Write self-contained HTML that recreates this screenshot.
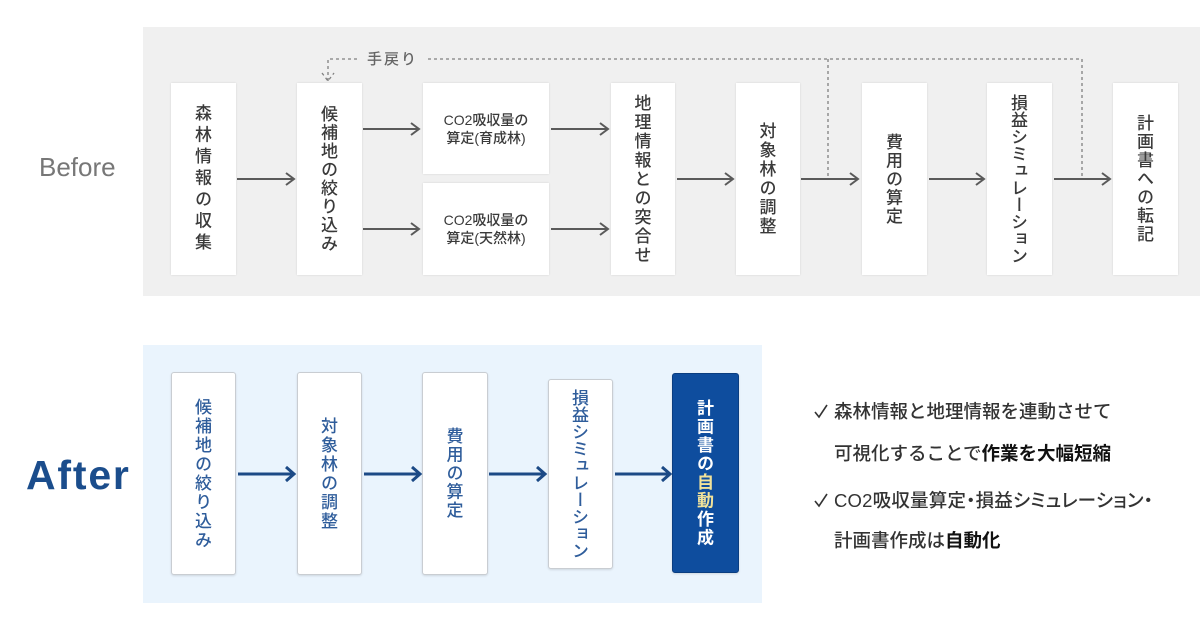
<!DOCTYPE html>
<html><head><meta charset="utf-8">
<style>
html,body{margin:0;padding:0;background:#fff;}
body{width:1200px;height:630px;position:relative;overflow:hidden;font-family:"Liberation Sans","Noto Sans CJK JP",sans-serif;}
.abs{position:absolute;}
.panelB{position:absolute;left:143px;top:27px;width:1057px;height:269px;background:#f0f0f0;}
.panelA{position:absolute;left:143px;top:345px;width:619px;height:258px;background:#eaf4fd;}
.bx{position:absolute;background:#fff;box-shadow:0 0 2px rgba(0,0,0,.12);display:flex;align-items:center;justify-content:center;}
.vt{writing-mode:vertical-rl;font-family:"Noto Sans CJK JP",sans-serif;font-size:17px;font-weight:500;color:#3a3a3a;line-height:1;}
.ht{font-family:"Liberation Sans","Noto Sans CJK JP",sans-serif;font-size:14px;font-weight:500;color:#3a3a3a;text-align:center;line-height:18px;}
.ab{position:absolute;background:#fff;border:1px solid #c9cdd2;border-radius:3px;box-shadow:0 1px 2px rgba(0,0,0,.12);display:flex;align-items:center;justify-content:center;box-sizing:border-box;}
.av{writing-mode:vertical-rl;font-family:"Noto Sans CJK JP",sans-serif;font-size:17px;font-weight:500;color:#2f5d9b;line-height:1;}
.rt{position:absolute;left:834px;font-family:"Liberation Sans","Noto Sans CJK JP",sans-serif;font-size:18.5px;font-weight:500;color:#333;line-height:24px;white-space:nowrap;}
.rt b{color:#111;font-weight:bold;}
</style></head><body>

<div class="panelB"></div>
<div class="panelA"></div>

<div class="abs" style="left:39px;top:150px;font-size:26px;color:#777;line-height:34px;">Before</div>
<div class="abs" style="left:26px;top:452px;font-size:41px;font-weight:bold;color:#1b4d8c;line-height:46px;letter-spacing:1.8px;">After</div>

<!-- Before boxes -->
<div class="bx" style="left:171px;top:83px;width:65px;height:192px;"><div class="vt" style="letter-spacing:4.5px;">森林情報の収集</div></div>
<div class="bx" style="left:297px;top:83px;width:65px;height:192px;"><div class="vt" style="letter-spacing:1.5px;">候補地の絞り込み</div></div>
<div class="bx" style="left:423px;top:83px;width:126px;height:91px;"><div class="ht">CO2吸収量の<br>算定(育成林)</div></div>
<div class="bx" style="left:423px;top:183px;width:126px;height:92px;"><div class="ht">CO2吸収量の<br>算定(天然林)</div></div>
<div class="bx" style="left:611px;top:83px;width:64px;height:192px;"><div class="vt" style="letter-spacing:2px;">地理情報との突合せ</div></div>
<div class="bx" style="left:736px;top:83px;width:64px;height:192px;"><div class="vt" style="letter-spacing:2px;">対象林の調整</div></div>
<div class="bx" style="left:862px;top:83px;width:65px;height:192px;"><div class="vt" style="letter-spacing:1.5px;">費用の算定</div></div>
<div class="bx" style="left:987px;top:83px;width:65px;height:192px;"><div class="vt" style="letter-spacing:0px;">損益シミュレーション</div></div>
<div class="bx" style="left:1113px;top:83px;width:65px;height:192px;"><div class="vt" style="letter-spacing:1.5px;">計画書への転記</div></div>

<div class="abs" style="left:367px;top:49px;font-family:'Noto Sans CJK JP',sans-serif;font-size:15px;font-weight:500;color:#666;letter-spacing:2px;line-height:20px;">手戻り</div>

<!-- After boxes -->
<div class="ab" style="left:171px;top:372px;width:65px;height:203px;"><div class="av" style="letter-spacing:2px;">候補地の絞り込み</div></div>
<div class="ab" style="left:297px;top:372px;width:65px;height:203px;"><div class="av" style="letter-spacing:2px;">対象林の調整</div></div>
<div class="ab" style="left:422px;top:372px;width:66px;height:203px;"><div class="av" style="letter-spacing:1.5px;">費用の算定</div></div>
<div class="ab" style="left:548px;top:379px;width:65px;height:190px;"><div class="av" style="letter-spacing:0px;">損益シミュレーション</div></div>
<div class="ab" style="left:672px;top:373px;width:67px;height:200px;background:#0e4d9e;border-color:#0a3d80;"><div class="av" style="color:#fff;font-weight:bold;letter-spacing:1.5px;">計画書の<span style="color:#f1e29a;">自動</span>作成</div></div>

<svg class="abs" style="left:0;top:0;" width="1200" height="630" viewBox="0 0 1200 630">
  <g fill="none" stroke="#5a5a5a" stroke-width="2">
    <path d="M237 179H294M286 173L294 179L286 185"/>
    <path d="M363 129H419M411 123L419 129L411 135"/>
    <path d="M363 229H419M411 223L419 229L411 235"/>
    <path d="M551 129H608M600 123L608 129L600 135"/>
    <path d="M551 229H608M600 223L608 229L600 235"/>
    <path d="M677 179H733M725 173L733 179L725 185"/>
    <path d="M801 179H858M850 173L858 179L850 185"/>
    <path d="M929 179H984M976 173L984 179L976 185"/>
    <path d="M1054 179H1110M1102 173L1110 179L1102 185"/>
  </g>
  <g fill="none" stroke="#808080" stroke-width="1.3" stroke-dasharray="3 3">
    <path d="M328 81V59H359"/>
    <path d="M428 59H1082V179"/>
    <path d="M828 59V179"/>
    <path d="M322 73L328 81L334 73"/>
  </g>
  <g fill="none" stroke="#1c4a86" stroke-width="3">
    <path d="M238 474H294M286 467L294 474L286 481"/>
    <path d="M364 474H420M412 467L420 474L412 481"/>
    <path d="M489 474H545M537 467L545 474L537 481"/>
    <path d="M615 474H670M662 467L670 474L662 481"/>
  </g>
  <g fill="none" stroke="#333" stroke-width="1.6">
    <path d="M815 412L819 417L827 405"/>
    <path d="M815 501L819 506L827 494"/>
  </g>
</svg>

<div class="rt" style="top:400px;">森林情報と地理情報を連動させて</div>
<div class="rt" style="top:442px;">可視化することで<b>作業を大幅短縮</b></div>
<div class="rt" style="top:489px;font-feature-settings:'palt';letter-spacing:0.2px;">CO2吸収量算定・損益シミュレーション・</div>
<div class="rt" style="top:529px;">計画書作成は<b>自動化</b></div>

</body></html>
